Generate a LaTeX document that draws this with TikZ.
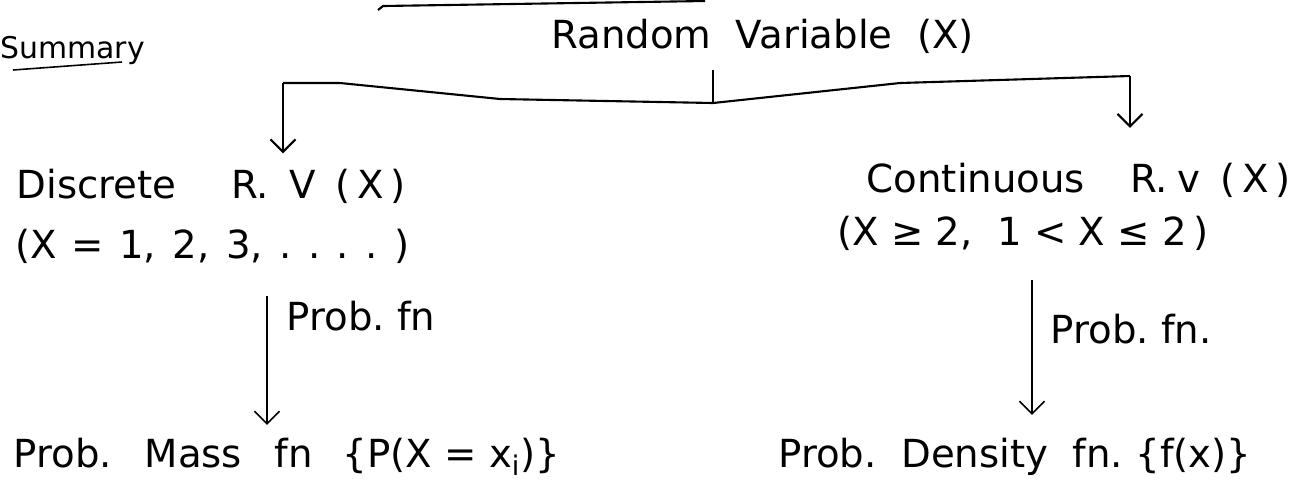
\documentclass[tikz,border=0pt]{standalone}
\usepackage{fontspec}
\setmainfont{DejaVu Sans}
\usetikzlibrary{arrows.meta,positioning}
\tikzset{
	hand/.style={inner sep=0pt, font=\fontsize{22}{26}\selectfont},
	bar/.style={line width=1.2pt},
	arr/.style={line width=0.9pt, -{Straight Barb[length=2.5mm,width=5mm]}}
}
\begin{document}
\begin{tikzpicture}
	\useasboundingbox (0,0) rectangle (26.16,-10.06);
	% heading
	\node[hand, anchor=base west, font=\fontsize{17}{20}\selectfont] (summ) at (0,-1.16) {Summary};
	\draw[line width=0.9pt] (0.26,-1.4)--(2.44,-1.24);
	\draw[bar] (7.56,-0.2)--(7.66,-0.12)--(14.1,-0.02);
	\node[hand, anchor=base] (rv) at (15.25,-0.96) {Random\ \ Variable\ \ (X)};
	% the two kinds
	\node[hand, anchor=base] (disc) at (4.22,-3.96) {Discrete\hspace{1.1cm}R.\hspace{0.4cm}V\hspace{0.4cm}(\,X\,)};
	\node[hand, anchor=base] (discset) at (4.25,-5.16) {(X\hspace{0.3cm}=\hspace{0.3cm}1,\hspace{0.33cm}2,\hspace{0.33cm}3,\hspace{0.33cm}.\hspace{0.33cm}.\hspace{0.33cm}.\hspace{0.33cm}.\hspace{0.33cm})};
	\node[hand, anchor=base] (cont) at (21.57,-3.84) {Continuous\hspace{0.9cm}R.\hspace{0.2cm}v\hspace{0.4cm}(\,X\,)};
	\node[hand, anchor=base] (contset) at (20.46,-4.9) {(X ≥ 2,\ \ 1 < X ≤ 2\,)};
	% the functions
	\node[hand, anchor=base] (pmf) at (5.74,-9.34) {Prob.\hspace{0.65cm}Mass\hspace{0.65cm}fn\hspace{0.6cm}\{P(X = x\textsubscript{i})\}};
	\node[hand, anchor=base] (pdf) at (20.3,-9.34) {Prob.\ \ Density\ \ fn.\ \{f(x)\}};
	% branching
	\coordinate (stem) at (14.26,-1.4);
	\coordinate (barL) at (5.66,-1.66);
	\coordinate (barM) at (14.26,-2.06);
	\coordinate (barR) at (22.6,-1.52);
	\draw[bar] (stem)--(barM);
	\draw[bar] (barL)--(6.8,-1.66)--(10,-1.98)--(barM)--(18,-1.66)--(barR);
	\draw[bar, -{Straight Barb[length=2.5mm,width=5mm]}, shorten >=0.3cm] (barL)--(barL |- disc.north);
	\draw[bar, -{Straight Barb[length=2.5mm,width=5mm]}, shorten >=0.69cm] (barR)--(barR |- cont.north);
	% probability functions
	\coordinate (lx) at (5.34,0);
	\coordinate (rx) at (20.64,0);
	\draw[arr, shorten <=0.65cm, shorten >=0.25cm] (discset.south -| lx)--(pmf.north -| lx)
		node[hand, pos=0.3, right=0.38cm] (lfn) {Prob.\ fn};
	\draw[arr, shorten <=0.6cm, shorten >=0.45cm] (contset.south -| rx)--(pdf.north -| rx)
		node[hand, pos=0.42, right=0.36cm] (rfn) {Prob.\ fn.};
\end{tikzpicture}
\end{document}
